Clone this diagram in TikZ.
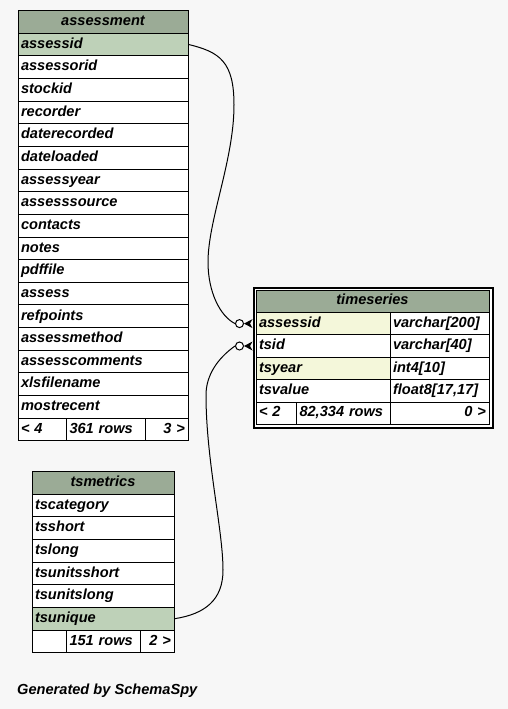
\documentclass[tikz,border=0pt]{standalone}
\usepackage{fontspec}
\usetikzlibrary{calc}
\newfontfamily\lsans{Liberation Sans}
\definecolor{bg}{HTML}{F7F7F7}
\definecolor{hdr}{HTML}{9BAB96}
\definecolor{pk}{HTML}{BED1B8}
\definecolor{idx}{HTML}{F4F7DA}
\tikzset{
  cell/.style={draw=black, line width=1pt, fill=white, anchor=north west,
    inner xsep=3pt, inner ysep=0pt, minimum height=22.65pt,
    text height=10.5pt, text depth=3pt, align=left},
  tcell/.style={cell, minimum height=22.4pt},
  hcell/.style={fill=hdr, align=center},
  rcell/.style={align=right},
  odot/.style={draw, circle, fill=white, line width=1pt, inner sep=0pt, minimum size=8pt},
  conn/.style={draw=black, line width=1pt}
}
\begin{document}
\begin{tikzpicture}[x=1pt,y=-1pt,
  every node/.style={font=\lsans\bfseries\itshape\fontsize{14.6}{17}\selectfont}]
\fill[bg] (0,0) rectangle (508,709);
\useasboundingbox (0,0) rectangle (508,709);

% ---------------- assessment ----------------
\node[cell, hcell, text width=164pt] (a-head) at (17.5,10) {assessment};
\node[cell, fill=pk, text width=164pt] (a-assessid) at (17.5,32.65) {assessid};
\foreach \t [count=\i from 2] in {assessorid,stockid,recorder,daterecorded,dateloaded,assessyear,assesssource,contacts,notes,pdffile,assess,refpoints,assessmethod,assesscomments,xlsfilename,mostrecent}
  \node[cell, text width=164pt] (a-\t) at (17.5,{10+\i*22.65}) {\t};
\node[cell, text width=42.5pt] (a-f1) at (17.5,417.7) {< 4};
\node[cell, text width=73pt] (a-f2) at (66,417.7) {361 rows};
\node[cell, rcell, text width=36.5pt] (a-f3) at (145,417.7) {3 >};

% ---------------- timeseries ----------------
\node[draw, line width=2pt, fill=white, anchor=north west, inner sep=0pt,
  minimum width=239pt, minimum height=140.5pt] (ts-frame) at (252.5,286.5) {};
\node[tcell, hcell, text width=227pt] (ts-head) at (255.5,289.5) {timeseries};
\node[tcell, fill=idx, text width=128pt] (ts-assessid) at (255.5,311.9) {assessid};
\node[tcell, text width=93pt] (ts-assessid-t) at (389.5,311.9) {varchar[200]};
\node[tcell, text width=128pt] (ts-tsid) at (255.5,334.3) {tsid};
\node[tcell, text width=93pt] (ts-tsid-t) at (389.5,334.3) {varchar[40]};
\node[tcell, fill=idx, text width=128pt] (ts-tsyear) at (255.5,356.7) {tsyear};
\node[tcell, text width=93pt] (ts-tsyear-t) at (389.5,356.7) {int4[10]};
\node[tcell, text width=128pt] (ts-tsvalue) at (255.5,379.1) {tsvalue};
\node[tcell, text width=93pt] (ts-tsvalue-t) at (389.5,379.1) {float8[17,17]};
\node[tcell, text width=34.5pt] (ts-f1) at (255.5,401.5) {< 2};
\node[tcell, text width=87.5pt] (ts-f2) at (296,401.5) {82,334 rows};
\node[tcell, rcell, text width=93pt] (ts-f3) at (389.5,401.5) {0 >};

% ---------------- tsmetrics ----------------
\node[cell, hcell, text width=136pt] (m-head) at (31.5,471) {tsmetrics};
\foreach \t [count=\i] in {tscategory,tsshort,tslong,tsunitsshort,tsunitslong}
  \node[cell, text width=136pt] (m-\t) at (31.5,{471+\i*22.65}) {\t};
\node[cell, fill=pk, text width=136pt] (m-tsunique) at (31.5,606.9) {tsunique};
\node[cell, text width=28.5pt] (m-f1) at (31.5,629.55) {};
\node[cell, text width=68pt] (m-f2) at (66,629.55) {151 rows};
\node[cell, rcell, text width=27.5pt] (m-f3) at (140,629.55) {2 >};

% ---------------- connector ends ----------------
\node[odot] (c1) at ($(ts-assessid.west)+(-16,0)$) {};
\node[odot] (c2) at ($(ts-tsid.west)+(-16,0)$) {};
\fill (c1.east) -- ++(8.5,-4.5) -- ++(-2.5,4.5) -- ++(2.5,4.5) -- cycle;
\fill (c2.east) -- ++(8.5,-4.5) -- ++(-2.5,4.5) -- ++(2.5,4.5) -- cycle;

% ---------------- connectors ----------------
\draw[conn] (a-assessid.east) .. controls (220,52) and (234,62) .. (234,105)
  .. controls (234,160) and (208,220) .. (208,262)
  .. controls (208,292) and (220,316) .. (c1.west);
\draw[conn] (c2.west) .. controls (218,358) and (206,375) .. (206,395)
  .. controls (206,460) and (223,530) .. (223,570)
  .. controls (223,600) and (205,614) .. (m-tsunique.east);

% ---------------- footer ----------------
\node[anchor=base west, inner sep=0pt] (gen) at (17,694) {Generated by SchemaSpy};
\end{tikzpicture}
\end{document}
